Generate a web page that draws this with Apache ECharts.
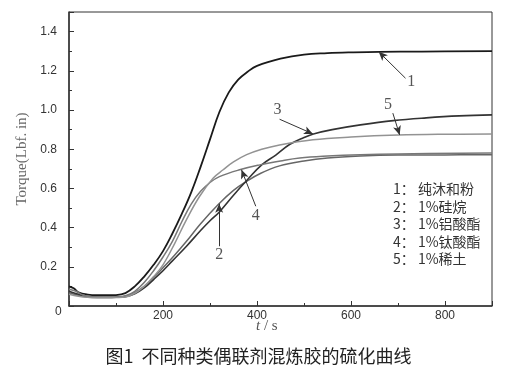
<!DOCTYPE html>
<html>
<head>
<meta charset="utf-8">
<script src="https://cdn.jsdelivr.net/npm/echarts@6/dist/echarts.min.js"></script>
<style>
  html, body { margin: 0; padding: 0; background: #fff; }
  #chart { width: 517px; height: 377px; }
</style>
</head>
<body>
<div id="chart"></div>
<script>
// curing curves, [t (s), torque]
var curve1 = [[0,0.10],[10,0.09],[20,0.07],[40,0.058],[60,0.055],[80,0.055],[100,0.056],[120,0.066],[140,0.1],[160,0.15],[180,0.21],[200,0.28],[220,0.37],[240,0.47],[260,0.58],[280,0.71],[300,0.85],[320,0.99],[340,1.09],[360,1.155],[380,1.195],[400,1.225],[450,1.262],[500,1.283],[550,1.29],[600,1.294],[660,1.297],[750,1.298],[900,1.30]];
var curve2 = [[0,0.068],[20,0.055],[40,0.045],[60,0.043],[80,0.043],[100,0.044],[120,0.05],[140,0.068],[160,0.1],[180,0.145],[200,0.195],[225,0.26],[250,0.33],[280,0.42],[317,0.517],[350,0.59],[378,0.636],[406,0.675],[448,0.715],[500,0.74],[550,0.755],[620,0.765],[700,0.77],[800,0.771],[900,0.772]];
var curve3 = [[0,0.075],[20,0.06],[40,0.048],[60,0.045],[80,0.045],[100,0.045],[120,0.048],[140,0.062],[160,0.092],[180,0.135],[200,0.18],[220,0.23],[250,0.305],[280,0.385],[300,0.435],[320,0.48],[350,0.565],[380,0.645],[410,0.72],[440,0.77],[470,0.825],[500,0.86],[520,0.878],[560,0.9],[620,0.924],[690,0.946],[760,0.96],[830,0.97],[900,0.975]];
var curve4 = [[0,0.085],[15,0.075],[30,0.055],[50,0.047],[80,0.045],[100,0.046],[120,0.052],[140,0.075],[160,0.12],[180,0.18],[200,0.25],[220,0.33],[240,0.43],[260,0.52],[280,0.585],[300,0.63],[320,0.66],[363,0.695],[406,0.72],[450,0.74],[491,0.755],[550,0.765],[620,0.772],[700,0.776],[900,0.78]];
var curve5 = [[0,0.06],[20,0.05],[40,0.044],[60,0.042],[80,0.042],[100,0.043],[120,0.046],[140,0.065],[160,0.1],[180,0.15],[200,0.21],[225,0.32],[250,0.441],[278,0.56],[307,0.653],[328,0.695],[350,0.735],[378,0.772],[410,0.8],[448,0.822],[519,0.848],[600,0.862],[700,0.872],[800,0.876],[900,0.877]];

var curves = [curve1, curve2, curve3, curve4, curve5];
var lineColors = ['#1a1a1a', '#666666', '#333333', '#777777', '#939393'];
var lineWidths = [1.8, 1.5, 1.6, 1.5, 1.5];

// numbered arrows: label position, arrow start, arrow tip (data coords)
var arrowLabels = ['1', '2', '3', '4', '5'];
var arrowText = [[728,1.144],[319.5,0.263],[443.6,1.0],[397.4,0.458],[678.6,1.026]];
var arrowFrom = [[716,1.162],[319.5,0.305],[448,0.953],[397.4,0.509],[689,0.984]];
var arrowTo = [[659,1.297],[319.5,0.522],[519,0.878],[367,0.695],[703.5,0.873]];

var legendLines = ['1： 纯沐和粉', '2： 1%硅烷', '3： 1%铝酸酯', '4： 1%钛酸酯', '5： 1%稀土'];
var xTicks = [0, 200, 400, 600, 800];
var yTicks = [0.2, 0.4, 0.6, 0.8, 1.0, 1.2, 1.4];
var caption = '图1  不同种类偶联剂混炼胶的硫化曲线';

var series = curves.map(function (d, i) {
  return {
    type: 'line',
    data: d,
    smooth: 0.4,
    symbol: 'none',
    lineStyle: { color: lineColors[i], width: lineWidths[i] },
    markLine: {
      silent: true,
      symbol: ['none', 'arrow'],
      symbolSize: [6, 9],
      lineStyle: { color: '#333', width: 1, type: 'solid' },
      label: { show: false },
      data: [[{ coord: arrowFrom[i] }, { coord: arrowTo[i] }]]
    },
    markPoint: {
      silent: true,
      symbol: 'circle',
      symbolSize: 0,
      label: {
        show: true,
        position: 'inside',
        formatter: arrowLabels[i],
        fontFamily: 'Liberation Serif',
        fontSize: 16,
        color: '#555'
      },
      data: [{ coord: arrowText[i] }]
    }
  };
});

var graphics = legendLines.map(function (t, i) {
  return {
    type: 'text',
    left: 393,
    top: 182 + i * 17.5,
    style: { text: t, font: '14px "Noto Sans CJK SC"', fill: '#333' }
  };
});
graphics.push({
  type: 'text', left: 55, top: 306,
  style: { text: '0', font: '12px Arial, "Liberation Sans"', fill: '#333' }
});
graphics.push({
  type: 'text', left: 256, top: 319,
  style: {
    text: '{t|t} / s',
    font: '15px "Liberation Serif"',
    fill: '#555',
    rich: { t: { fontStyle: 'italic', fontFamily: 'Liberation Serif', fontSize: 15, fill: '#555' } }
  }
});
graphics.push({
  type: 'text', left: 'center', top: 347,
  style: { text: caption, font: '18px "Noto Sans CJK SC"', fill: '#222' }
});

var chart = echarts.init(document.getElementById('chart'));
chart.setOption({
  animation: false,
  grid: {
    left: 69, top: 12, right: 25, bottom: 71,
    show: true, borderColor: '#333', borderWidth: 1
  },
  xAxis: {
    type: 'value',
    min: 0, max: 900, interval: 200,
    axisLine: { show: true, lineStyle: { color: '#333', width: 1.5 } },
    axisTick: { show: true, inside: true, length: 5, lineStyle: { color: '#333' } },
    minorTick: { show: true, splitNumber: 2, length: 3, lineStyle: { color: '#333' } },
    splitLine: { show: false },
    axisLabel: {
      margin: 4, fontSize: 12, color: '#333', fontFamily: 'Arial, "Liberation Sans"',
      formatter: function (v) { return xTicks.indexOf(v) > 0 ? String(v) : ''; }
    }
  },
  yAxis: {
    type: 'value',
    min: 0, max: 1.5, interval: 0.2,
    name: 'Torque(Lbf. in)',
    nameLocation: 'middle',
    nameGap: 38,
    nameTextStyle: { fontFamily: 'Liberation Serif', fontSize: 15, color: '#666' },
    axisLine: { show: true, lineStyle: { color: '#333', width: 1.5 } },
    axisTick: { show: true, inside: true, length: 5, lineStyle: { color: '#333' } },
    minorTick: { show: true, splitNumber: 2, length: 3, lineStyle: { color: '#333' } },
    splitLine: { show: false },
    axisLabel: {
      margin: 12, fontSize: 12, color: '#333', fontFamily: 'Arial, "Liberation Sans"',
      formatter: function (v) {
        for (var k = 0; k < yTicks.length; k++) {
          if (Math.abs(yTicks[k] - v) < 1e-6) return yTicks[k].toFixed(1);
        }
        return '';
      }
    }
  },
  series: series,
  graphic: graphics
});
</script>
</body>
</html>
